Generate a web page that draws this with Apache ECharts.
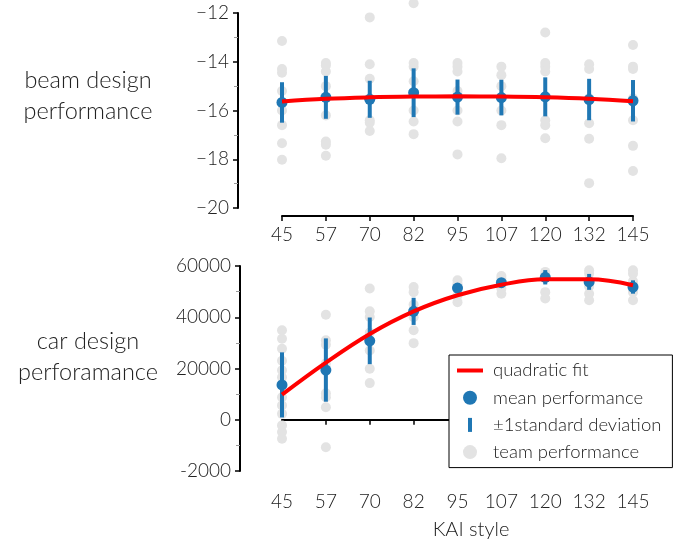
<!DOCTYPE html>
<html>
<head>
<meta charset="utf-8">
<script src="https://cdn.jsdelivr.net/npm/echarts@6/dist/echarts.min.js"></script>
<style>
html,body{margin:0;padding:0;background:#fff;}
#chart{width:681px;height:542px;}
</style>
</head>
<body>
<div id="chart"></div>
<script>
// ---------- data ----------
var kaiStyle = ['45', '57', '70', '82', '95', '107', '120', '132', '145'];

var beamMean = [-15.67, -15.46, -15.54, -15.27, -15.45, -15.47, -15.44, -15.55, -15.6];
var beamStd = [0.83, 0.88, 0.76, 1.0, 0.72, 0.73, 0.8, 0.85, 0.85];
var beamFit = [-15.63, -15.52, -15.46, -15.43, -15.42, -15.43, -15.46, -15.52, -15.62];
var beamTeams = [
  [-13.15, -14.3, -14.45, -15.2, -16.0, -16.6, -17.34, -18.02],
  [-14.05, -14.15, -14.4, -15.0, -16.2, -17.27, -17.4, -17.86],
  [-12.18, -14.1, -14.7, -15.5, -16.4, -16.5, -16.84],
  [-11.6, -14.05, -14.2, -14.8, -16.0, -16.45, -16.97],
  [-14.05, -14.2, -14.4, -15.2, -16.0, -16.45, -17.8],
  [-14.2, -14.55, -15.0, -16.0, -16.6, -17.96],
  [-12.8, -14.05, -14.2, -14.4, -16.4, -16.6, -17.14],
  [-14.1, -14.3, -15.5, -16.52, -17.16, -18.98],
  [-13.31, -14.2, -14.3, -15.5, -16.4, -17.45, -18.48]
];

var carMean = [13600, 19400, 30800, 42300, 51400, 53500, 55600, 53800, 51800];
var carStd = [12700, 12350, 9100, 5300, 1200, 1500, 2800, 3100, 2600];
var carFit = [9800, 22300, 33500, 42300, 48600, 52700, 54800, 54800, 52500];
var carTeams = [
  [34900, 31600, 27700, 23000, 19300, 16600, 8800, 5600, 2300, -2200, -4800, -7400],
  [41000, 31000, 29300, 22000, 10300, 8800, 4900, -10700],
  [51200, 42300, 40100, 34000, 27000, 19900, 14300],
  [51800, 49800, 45000, 40000, 34900, 29900],
  [54400, 53100, 52000, 48500, 45900],
  [56100, 55000, 51200, 49200],
  [57700, 56500, 49800, 47300],
  [58300, 57000, 52000, 49200, 46600],
  [58300, 57000, 54000, 49800, 46600]
];

var beamTicks = {min: -20, max: -12, interval: 2};
var carTicks = {min: -20000, max: 60000, interval: 20000};

// ---------- helpers ----------
function flatten(teams) {
  var out = [];
  teams.forEach(function (arr, i) { arr.forEach(function (v) { out.push([i, v]); }); });
  return out;
}
function errData(mean, std) {
  return mean.map(function (m, i) { return [i, m - std[i], m + std[i]]; });
}
function errRender(params, api) {
  var x = api.value(0);
  var p1 = api.coord([x, api.value(2)]);
  var p2 = api.coord([x, api.value(1)]);
  return {type: 'rect', shape: {x: p1[0] - 2, y: p1[1], width: 4, height: p2[1] - p1[1]},
          style: {fill: '#1f77b4'}};
}

var FONT = 'Lato';
var FW = 300;
var TXT = '#222';
var BLUE = '#1f77b4';
var GREY = '#e3e3e3';

function xAxisCfg(idx, offset, withName) {
  var a = {
    type: 'category', gridIndex: idx, data: kaiStyle, boundaryGap: false, offset: offset,
    axisLine: {show: true, lineStyle: {color: '#000', width: 2}},
    axisTick: {show: true, length: 5, lineStyle: {color: '#000', width: 1.5}},
    axisLabel: {fontFamily: FONT, fontWeight: FW, fontSize: 19, color: TXT, margin: 9},
    splitLine: {show: false}
  };
  if (withName) {
    a.name = 'KAI style';
    a.nameLocation = 'middle';
    a.nameGap = 37;
    a.nameTextStyle = {fontFamily: FONT, fontWeight: FW, fontSize: 20, color: TXT, padding: [0, 0, 0, 27]};
  }
  return a;
}
function yAxisCfg(idx, ticks, offset, fmt) {
  return {
    type: 'value', gridIndex: idx, min: ticks.min, max: ticks.max, interval: ticks.interval,
    offset: offset,
    axisLine: {show: true, lineStyle: {color: '#000', width: 2}},
    axisTick: {show: true, length: 5, lineStyle: {color: '#000', width: 1.5}},
    minorTick: {show: true, splitNumber: 2, length: 4, lineStyle: {color: '#999', width: 1}},
    axisLabel: {fontFamily: FONT, fontWeight: FW, fontSize: 19, color: TXT, margin: 9, formatter: fmt},
    splitLine: {show: false}
  };
}

var chart = echarts.init(document.getElementById('chart'), null, {renderer: 'canvas'});
var option = {
  animation: false,
  backgroundColor: '#fff',
  grid: [
    {left: 282, width: 351, top: 13, height: 195},
    {left: 282, width: 351, top: 266, height: 205}
  ],
  xAxis: [xAxisCfg(0, 8, false), xAxisCfg(1, 12, true)],
  yAxis: [
    yAxisCfg(0, beamTicks, 44, function (v) { return '\u2212' + Math.abs(v); }),
    yAxisCfg(1, carTicks, 42, function (v) { return v === -20000 ? '-2000' : String(v); })
  ],
  legend: {
    orient: 'vertical', left: 449, top: 355,
    padding: [6, 11, 6, 8],
    itemWidth: 26, itemHeight: 14, itemGap: 8.2,
    borderColor: '#000', borderWidth: 1, borderRadius: 0,
    backgroundColor: '#fff',
    textStyle: {fontFamily: FONT, fontWeight: FW, fontSize: 18.5, color: TXT, padding: [0, 0, 0, 5]},
    data: [
      {name: 'quadratic fit', icon: 'path://M0,5 L26,5 L26,9 L0,9 Z', itemStyle: {color: '#ff0000', opacity: 1}},
      {name: 'mean performance', icon: 'circle', itemStyle: {color: BLUE, opacity: 1}},
      {name: '\u00b11standard deviation', icon: 'path://M11,0 L15,0 L15,14 L11,14 Z', itemStyle: {color: BLUE, opacity: 1}},
      {name: 'team performance', icon: 'circle', itemStyle: {color: GREY, opacity: 1}}
    ],
    selectedMode: false
  },
  series: [
    {name: 'team performance', type: 'scatter', xAxisIndex: 0, yAxisIndex: 0, data: flatten(beamTeams),
     symbolSize: 10, itemStyle: {color: GREY, opacity: 1}, clip: false, z: 1},
    {name: '\u00b11standard deviation', type: 'custom', xAxisIndex: 0, yAxisIndex: 0,
     data: errData(beamMean, beamStd), renderItem: errRender, itemStyle: {color: BLUE}, z: 2},
    {name: 'mean performance', type: 'scatter', xAxisIndex: 0, yAxisIndex: 0,
     data: beamMean.map(function (v, i) { return [i, v]; }),
     symbolSize: 11, itemStyle: {color: BLUE, opacity: 1}, z: 3},
    {name: 'quadratic fit', type: 'line', xAxisIndex: 0, yAxisIndex: 0, data: beamFit,
     smooth: 0.4, showSymbol: false, lineStyle: {color: '#ff0000', width: 4}, itemStyle: {color: '#ff0000'}, z: 4},

    {name: 'team performance', type: 'scatter', xAxisIndex: 1, yAxisIndex: 1, data: flatten(carTeams),
     symbolSize: 10, itemStyle: {color: GREY, opacity: 1}, clip: false, z: 1},
    {name: '\u00b11standard deviation', type: 'custom', xAxisIndex: 1, yAxisIndex: 1,
     data: errData(carMean, carStd), renderItem: errRender, itemStyle: {color: BLUE}, z: 2},
    {name: 'mean performance', type: 'scatter', xAxisIndex: 1, yAxisIndex: 1,
     data: carMean.map(function (v, i) { return [i, v]; }),
     symbolSize: 11, itemStyle: {color: BLUE, opacity: 1}, z: 3},
    {name: 'quadratic fit', type: 'line', xAxisIndex: 1, yAxisIndex: 1, data: carFit,
     smooth: 0.4, showSymbol: false, lineStyle: {color: '#ff0000', width: 4}, itemStyle: {color: '#ff0000'}, z: 4}
  ],
  graphic: [
    {type: 'text', x: 88, y: 96, silent: true,
     style: {text: 'beam design\nperformance', fontFamily: FONT, fontWeight: FW, fontSize: 23.5, fill: TXT,
             align: 'center', verticalAlign: 'middle', lineHeight: 31}},
    {type: 'text', x: 88, y: 357, silent: true,
     style: {text: 'car design\nperforamance', fontFamily: FONT, fontWeight: FW, fontSize: 23.5, fill: TXT,
             align: 'center', verticalAlign: 'middle', lineHeight: 31}}
  ]
};
chart.setOption(option);
</script>
</body>
</html>
